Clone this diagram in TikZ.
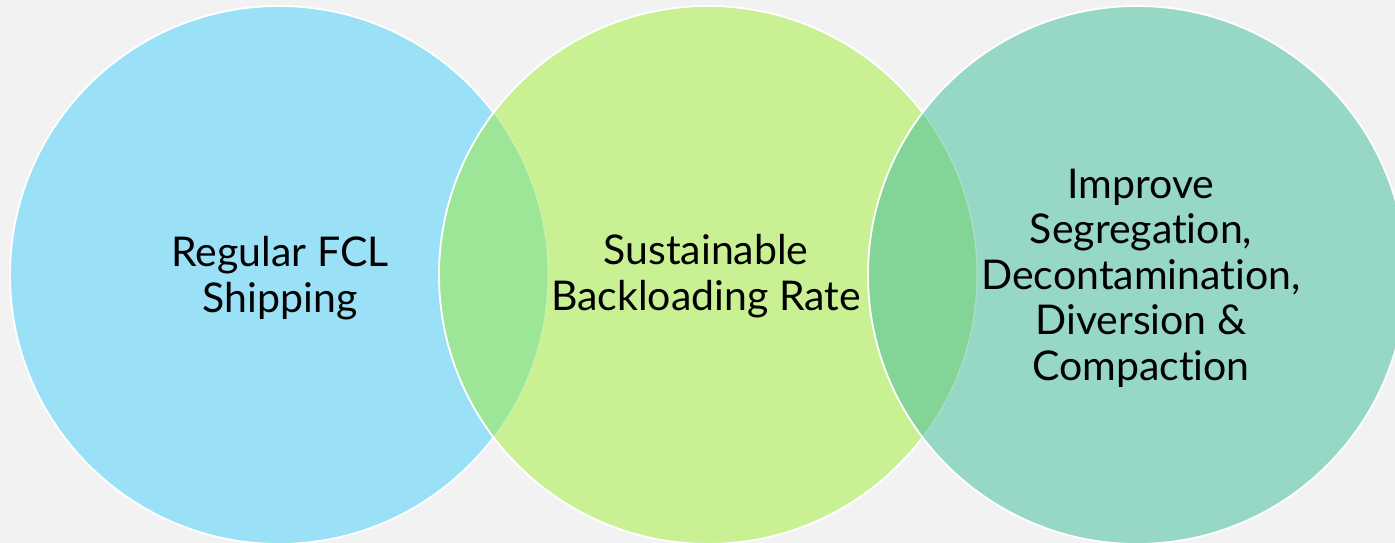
\documentclass[tikz,border=0pt]{standalone}
\usepackage{fontspec}
\setmainfont[RawFeature={-liga}]{Lato}
\definecolor{bg}{HTML}{F2F2F2}
\definecolor{cblue}{HTML}{9AE1F7}
\definecolor{cgreen}{HTML}{C9F193}
\definecolor{cteal}{HTML}{97D7C6}
\definecolor{lensA}{HTML}{9DE697}
\definecolor{lensB}{HTML}{83D497}
\tikzset{
  ring/.style={draw=white, line width=1.8pt},
  faint/.style={draw=white, draw opacity=0.25, line width=1.2pt},
  label/.style={align=center, text=black, font=\fontsize{41}{45.5}\selectfont, inner sep=0pt}
}
\begin{document}
\begin{tikzpicture}[x=1pt,y=-1pt]
\useasboundingbox (0,0) rectangle (1395,543);
\fill[bg] (0,0) rectangle (1395,543);
\def\R{269}
\coordinate (cL) at (279,275);
\coordinate (cM) at (708,275);
\coordinate (cR) at (1137,275);
% left circle
\fill[cblue] (cL) circle[radius=\R];
\draw[ring] (cL) circle[radius=\R];
% middle circle
\fill[cgreen] (cM) circle[radius=\R];
\begin{scope}
  \clip (cL) circle[radius=\R];
  \fill[lensA] (cM) circle[radius=\R];
\end{scope}
\begin{scope}
  \clip (cM) circle[radius=\R];
  \draw[faint] (cL) circle[radius=\R];
\end{scope}
\draw[ring] (cM) circle[radius=\R];
% right circle
\fill[cteal] (cR) circle[radius=\R];
\begin{scope}
  \clip (cM) circle[radius=\R];
  \fill[lensB] (cR) circle[radius=\R];
\end{scope}
\begin{scope}
  \clip (cR) circle[radius=\R];
  \draw[faint] (cM) circle[radius=\R];
\end{scope}
\draw[ring] (cR) circle[radius=\R];
% labels
\node[label] (tL) at (280,278) {Regular FCL\\Shipping};
\node[label] (tM) at (706,276) {Sustainable\\Backloading Rate};
\node[label] (tR) at (1141,278) {Improve\\Segregation,\\Decontamination,\\Diversion \&\\Compaction};
\end{tikzpicture}
\end{document}
